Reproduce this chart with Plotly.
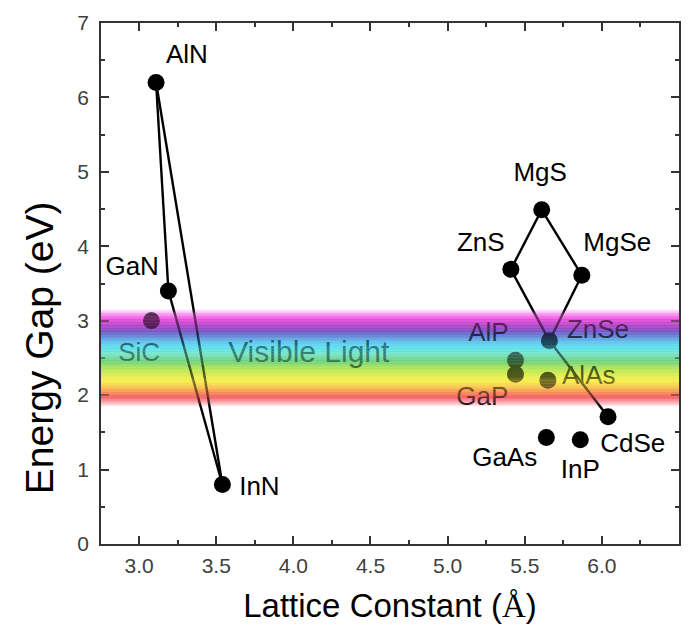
import plotly.graph_objects as go

# ---------------- data ----------------
materials = ["AlN", "GaN", "InN", "SiC", "MgS", "ZnS", "MgSe", "ZnSe", "CdSe",
             "AlP", "GaP", "AlAs", "GaAs", "InP"]
lattice = [3.11, 3.19, 3.54, 3.08, 5.61, 5.41, 5.87, 5.66, 6.04,
           5.44, 5.44, 5.65, 5.64, 5.86]
energy_gap = [6.20, 3.40, 0.80, 3.00, 4.49, 3.69, 3.61, 2.73, 1.71,
              2.47, 2.28, 2.20, 1.43, 1.40]

# alloy tie lines (pairs of materials)
tie_lines = [("AlN", "GaN"), ("GaN", "InN"), ("AlN", "InN"),
             ("MgS", "ZnS"), ("MgS", "MgSe"), ("ZnS", "ZnSe"),
             ("MgSe", "ZnSe"), ("ZnSe", "CdSe")]

# label texts and their anchor positions (data coords)
label_text = ["AlN", "GaN", "InN", "SiC", "MgS", "ZnS", "MgSe", "ZnSe", "CdSe",
              "AlP", "GaP", "AlAs", "GaAs", "InP", "Visible Light"]
label_x = [3.31, 2.955, 3.78, 3.00, 5.60, 5.215, 6.10, 5.975, 6.20,
           5.265, 5.225, 5.915, 5.37, 5.86, 4.10]
label_y = [6.55, 3.70, 0.74, 2.54, 4.96, 4.03, 4.03, 2.85, 1.33,
           2.81, 1.96, 2.24, 1.13, 0.97, 2.54]
label_size = [26] * 14 + [30]

# visible-light band colour stops: energy (eV), colour, weight
band_energy = [3.15, 3.10, 3.02, 2.92, 2.82, 2.72, 2.64, 2.55, 2.46, 2.37,
               2.28, 2.19, 2.10, 2.02, 1.96, 1.90, 1.85]
band_color = [(255, 235, 255), (250, 170, 245), (240, 80, 225), (170, 70, 195),
              (90, 95, 200), (80, 185, 235), (90, 225, 240), (120, 230, 200),
              (110, 210, 130), (160, 225, 80), (215, 235, 60), (250, 240, 75),
              (250, 195, 80), (250, 130, 90), (245, 90, 100), (250, 160, 170),
              (255, 235, 235)]
band_weight = [0.0, 0.6, 1, 1, 1, 1, 1, 1, 1, 1, 1, 1, 1, 1, 1, 0.6, 0.0]

x_ticks = [3.0, 3.5, 4.0, 4.5, 5.0, 5.5, 6.0, 6.5]
y_ticks = [0, 1, 2, 3, 4, 5, 6, 7]

# ---------------- figure ----------------
pos = {m: (x, y) for m, x, y in zip(materials, lattice, energy_gap)}
lx, ly = [], []
for a, b in tie_lines:
    lx += [pos[a][0], pos[b][0], None]
    ly += [pos[a][1], pos[b][1], None]

fig = go.Figure()
fig.add_trace(go.Scatter(x=lx, y=ly, mode="lines",
                         line=dict(color="black", width=2.4), hoverinfo="skip"))
fig.add_trace(go.Scatter(x=lattice, y=energy_gap, mode="markers",
                         marker=dict(color="black", size=17), text=materials))
fig.add_trace(go.Scatter(x=label_x, y=label_y, mode="text", text=label_text,
                         textposition="middle center",
                         textfont=dict(family="Liberation Sans, Arial", size=label_size,
                                       color=["black"] * 3 + ["#082a2a"] + ["black"] * 10 + ["#082a2a"])))


def interp(e):
    for i in range(len(band_energy) - 1):
        e0, e1 = band_energy[i], band_energy[i + 1]
        if e1 <= e <= e0:
            t = (e0 - e) / (e0 - e1)
            c = [band_color[i][k] + t * (band_color[i + 1][k] - band_color[i][k]) for k in range(3)]
            w = band_weight[i] + t * (band_weight[i + 1] - band_weight[i])
            return c, w
    return [255, 255, 255], 0.0


shapes = []
n = 130
top, bot = band_energy[0], band_energy[-1]
step = (top - bot) / n
for i in range(n):
    y0 = top - i * step
    y1 = y0 - step
    c, w = interp((y0 + y1) / 2)
    rgb = "rgb(%d,%d,%d)" % tuple(int(round(v)) for v in c)
    rgba = "rgba(%d,%d,%d,%.3f)" % (int(round(c[0])), int(round(c[1])), int(round(c[2])), 0.42 * w)
    shapes.append(dict(type="rect", xref="paper", yref="y", x0=0, x1=1, y0=y1, y1=y0 + 0.002,
                       fillcolor=rgb, line=dict(width=0), layer="below"))
    shapes.append(dict(type="rect", xref="paper", yref="y", x0=0, x1=1, y0=y1, y1=y0 + 0.002,
                       fillcolor=rgba, line=dict(width=0), layer="above"))

tick_font = dict(family="Liberation Sans, Arial", size=21, color="#404040")
axis_common = dict(showline=True, linecolor="#333333", linewidth=1.5, mirror="ticks",
                   ticks="inside", ticklen=8, tickwidth=1.5, tickcolor="#333333",
                   showgrid=False, zeroline=False, tickfont=tick_font,
                   minor=dict(ticks="inside", ticklen=4, tickwidth=1.5, tickcolor="#333333"))

fig.update_layout(
    width=692, height=637,
    margin=dict(l=101, r=13, t=23, b=93),
    plot_bgcolor="white", paper_bgcolor="white",
    showlegend=False, shapes=shapes,
    xaxis=dict(range=[2.753, 6.5], tickvals=x_ticks,
               ticktext=["%.1f" % v for v in x_ticks],
               title=dict(text="Lattice Constant (<span style='font-family:Liberation Serif'>Å</span>)",
                          font=dict(family="Liberation Sans, Arial", size=33, color="black"),
                          standoff=18),
               ticklabelstandoff=2,
               **axis_common),
    yaxis=dict(range=[0, 7], tickvals=y_ticks, ticktext=[str(v) for v in y_ticks],
               ticklabelstandoff=6,
               **axis_common),
    annotations=[dict(text="Energy Gap (eV)", textangle=-90, xref="paper", yref="y",
                      x=-0.106, y=2.64, xanchor="center", yanchor="middle", showarrow=False,
                      font=dict(family="Liberation Sans, Arial", size=39, color="black"))],
)
fig.update_xaxes(minor_dtick=0.25)
fig.update_yaxes(minor_dtick=0.5)

fig.write_html("out.html")
